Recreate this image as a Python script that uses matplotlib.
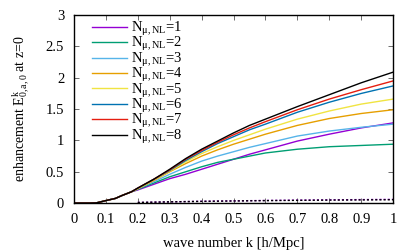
"""Enhancement E^k_{0,a,0} vs wave number, gnuplot-like style."""

import matplotlib
matplotlib.use("Agg")
import matplotlib.pyplot as plt

plt.rcParams["font.family"] = ["Liberation Serif", "DejaVu Serif"]
plt.rcParams["mathtext.fontset"] = "custom"
plt.rcParams["mathtext.rm"] = "Liberation Serif"
plt.rcParams["mathtext.it"] = "Liberation Serif:italic"
plt.rcParams["mathtext.bf"] = "Liberation Serif:bold"

# shared low-k part (all curves overlap here)
k_low = [0.0, 0.05, 0.07, 0.1, 0.13, 0.15, 0.18]
e_low = [0.0, 0.0, 0.003, 0.04, 0.075, 0.12, 0.18]

k_high = [0.2, 0.25, 0.3, 0.35, 0.4, 0.45, 0.5, 0.55, 0.6, 0.7, 0.8, 0.9, 1.0]
e_n1 = [0.21, 0.30, 0.39, 0.46, 0.54, 0.62, 0.70, 0.78, 0.85, 0.99, 1.10, 1.20, 1.28]
e_n2 = [0.22, 0.32, 0.42, 0.50, 0.58, 0.65, 0.70, 0.75, 0.80, 0.86, 0.90, 0.92, 0.94]
e_n3 = [0.23, 0.34, 0.46, 0.57, 0.67, 0.75, 0.82, 0.89, 0.95, 1.07, 1.15, 1.21, 1.26]
e_n4 = [0.23, 0.36, 0.50, 0.63, 0.75, 0.85, 0.94, 1.02, 1.10, 1.24, 1.35, 1.43, 1.49]
e_n5 = [0.23, 0.37, 0.51, 0.66, 0.79, 0.90, 1.00, 1.09, 1.18, 1.34, 1.47, 1.58, 1.66]
e_n6 = [0.24, 0.38, 0.52, 0.68, 0.82, 0.95, 1.06, 1.17, 1.26, 1.45, 1.61, 1.75, 1.87]
e_n7 = [0.24, 0.38, 0.53, 0.70, 0.84, 0.97, 1.09, 1.20, 1.30, 1.49, 1.66, 1.81, 1.95]
e_n8 = [0.24, 0.38, 0.54, 0.71, 0.86, 0.99, 1.12, 1.24, 1.34, 1.54, 1.73, 1.92, 2.09]

# small dashed contributions near zero
k_dash = [0.2, 0.3, 0.4, 0.5, 0.6, 0.7, 0.8, 0.9, 1.0]
e_dash_black = [0.01, 0.02, 0.028, 0.034, 0.04, 0.044, 0.048, 0.051, 0.054]
e_dash_purple = [0.01, 0.02, 0.029, 0.036, 0.042, 0.047, 0.052, 0.056, 0.06]

series = [e_n1, e_n2, e_n3, e_n4, e_n5, e_n6, e_n7, e_n8]
labels = [r"$\mathrm{N}_{\mathrm{\mu,NL}}$=%d" % (i + 1) for i in range(8)]
colors = ["#9400d3", "#009e73", "#56b4e9", "#e69f00",
          "#f0e442", "#0072b2", "#e51e10", "#000000"]

FS = 10.5

fig = plt.figure(figsize=(4.2, 2.52), dpi=100)
ax = fig.add_axes([0.176, 0.194, 0.760, 0.746])

for vals, lab, col in zip(series, labels, colors):
    ax.plot(k_low + k_high, e_low + vals, color=col, lw=1.0, label=lab)

ax.plot(k_dash, e_dash_purple, color=colors[0], lw=1.0, ls=(0, (1.5, 1.5)))
ax.plot(k_dash, e_dash_black, color="black", lw=1.0, ls=(0, (1.5, 1.5)))

ax.set_xlim(0, 1)
ax.set_ylim(0, 3)
ax.set_xticks([i / 10 for i in range(11)])
ax.set_xticklabels(["0", "0.1", "0.2", "0.3", "0.4", "0.5",
                    "0.6", "0.7", "0.8", "0.9", "1"])
ax.set_yticks([0, 0.5, 1, 1.5, 2, 2.5, 3])
ax.set_yticklabels(["0", "0.5", "1", "1.5", "2", "2.5", "3"])
ax.tick_params(direction="in", top=True, right=True, length=3.5,
               width=0.6, labelsize=FS, colors="#555555",
               labelcolor="black")
ax.tick_params(axis="x", pad=7)
ax.tick_params(axis="y", pad=7)
for sp in ax.spines.values():
    sp.set_linewidth(1.0)

ax.set_xlabel("wave number k [h/Mpc]", fontsize=FS, labelpad=8)
ax.set_ylabel(r"enhancement $\mathrm{E^{k}_{0,a,0}}$ at z=0", fontsize=10,
              labelpad=10)

ax.legend(loc="upper left", bbox_to_anchor=(0.03, 1.02), frameon=False,
          fontsize=FS, handlelength=2.4, handletextpad=0.25,
          labelspacing=-0.18, borderaxespad=0.2)

fig.savefig("out.png", dpi=100, facecolor="white")
